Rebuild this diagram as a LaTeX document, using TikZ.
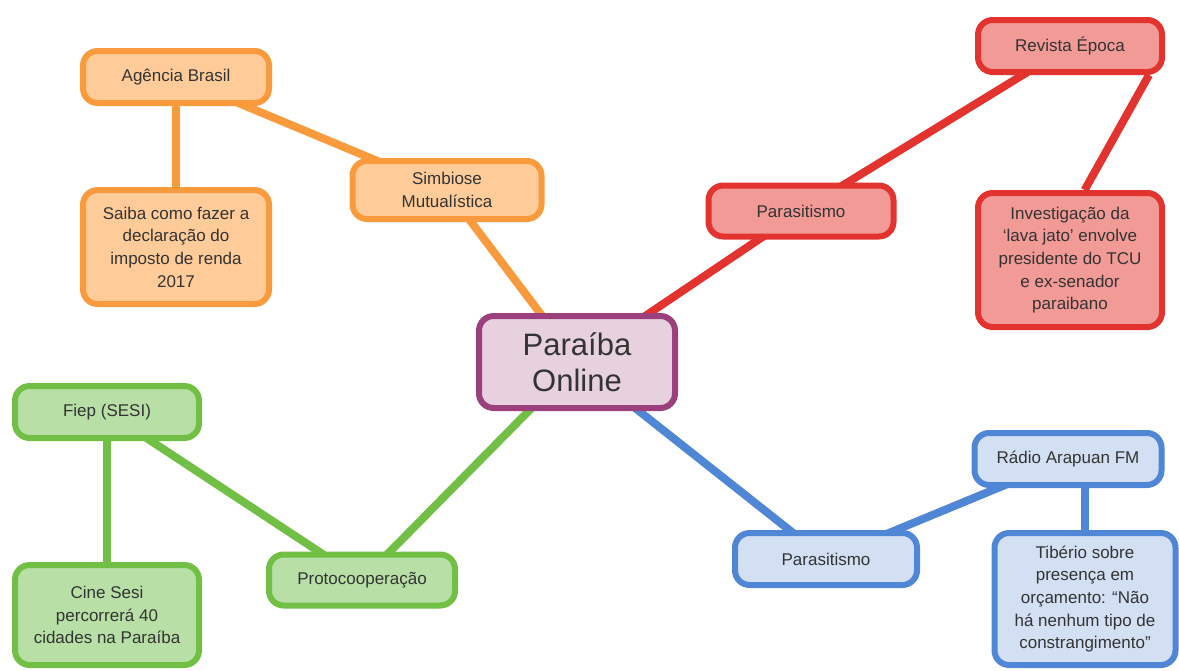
\documentclass[tikz,border=0pt]{standalone}
\usepackage{fontspec}
\setmainfont{Liberation Sans}
\usetikzlibrary{backgrounds}

\definecolor{orangeline}{HTML}{F99B3C}
\definecolor{orangefill}{HTML}{FFCC99}
\definecolor{redline}{HTML}{E2332F}
\definecolor{redfill}{HTML}{F19A96}
\definecolor{purpleline}{HTML}{9B3F7D}
\definecolor{purplefill}{HTML}{E7D1DF}
\definecolor{greenline}{HTML}{72BF45}
\definecolor{greenfill}{HTML}{B8E0A6}
\definecolor{blueline}{HTML}{4F86D5}
\definecolor{bluefill}{HTML}{D3E0F4}
\definecolor{textgray}{HTML}{333333}

\begin{document}
\begin{tikzpicture}[x=0.75pt,y=-0.75pt,
  box/.style={draw, line width=4.5pt, rounded corners=11pt, align=center,
    text=textgray, inner sep=0pt, font=\fontsize{12.75}{17}\selectfont},
  orangebox/.style={box, draw=orangeline, fill=orangefill},
  redbox/.style={box, draw=redline, fill=redfill},
  greenbox/.style={box, draw=greenline, fill=greenfill},
  bluebox/.style={box, draw=blueline, fill=bluefill},
  link/.style={line width=6pt}]
\useasboundingbox (0,0) rectangle (1179,671);

% centre
\node[box, draw=purpleline, fill=purplefill, minimum width=147pt, minimum height=69pt,
  font=\fontsize{23.25}{27}\selectfont] (paraiba) at (577,362) {Paraíba\\Online};

% orange branch
\node[orangebox, minimum width=139.5pt, minimum height=39pt] (agencia) at (176,77) {Agência Brasil};
\node[orangebox, minimum width=139.5pt, minimum height=85.5pt] (saiba) at (176,247)
  {Saiba como fazer a\\declaração do\\imposto de renda\\2017};
\node[orangebox, minimum width=141.75pt, minimum height=43.5pt] (simbiose) at (447,190)
  {Simbiose\\Mutualística};

% red branch
\node[redbox, minimum width=138.75pt, minimum height=38.25pt] (parasred) at (801,211) {Parasitismo};
\node[redbox, minimum width=138pt, minimum height=39pt] (revista) at (1070,46) {Revista Época};
\node[redbox, minimum width=138pt, minimum height=100.5pt] (invest) at (1070,260)
  {Investigação da\\‘lava jato’ envolve\\presidente do TCU\\e ex-senador\\paraibano};

% green branch
\node[greenbox, minimum width=138pt, minimum height=39pt] (fiep) at (107,412) {Fiep (SESI)};
\node[greenbox, minimum width=138pt, minimum height=75pt] (cine) at (107,615)
  {Cine Sesi\\percorrerá 40\\cidades na Paraíba};
\node[greenbox, minimum width=139.5pt, minimum height=38.25pt] (proto) at (362,580) {Protocooperação};

% blue branch
\node[bluebox, minimum width=136.5pt, minimum height=39pt] (parasblue) at (826,559) {Parasitismo};
\node[bluebox, minimum width=140.25pt, minimum height=39pt] (radio) at (1068,459) {Rádio Arapuan FM};
\node[bluebox, minimum width=135.75pt, minimum height=99pt] (tiberio) at (1085,599)
  {Tibério sobre\\presença em\\orçamento: “Não\\há nenhum tipo de\\constrangimento”};

\begin{scope}[on background layer]
\draw[link, orangeline] (agencia.center) -- (saiba.center);
\draw[link, orangeline] (agencia.center) -- (simbiose.center);
\draw[link, orangeline] (simbiose.center) -- (paraiba.center);

\draw[link, redline] (paraiba.center) -- (parasred.center);
\draw[link, redline] (parasred.center) -- (revista.center);
\draw[link, redline] ([xshift=-12pt]revista.south east) -- ([xshift=11pt]invest.north);

\draw[link, greenline] (fiep.center) -- (cine.center);
\draw[link, greenline] (fiep.center) -- (proto.center);
\draw[link, greenline] (proto.center) -- (paraiba.center);

\draw[link, blueline] (paraiba.center) -- (parasblue.center);
\draw[link, blueline] (parasblue.center) -- (radio.center);
\draw[link, blueline] (tiberio.center) -- (tiberio.center |- radio.center);
\end{scope}
\end{tikzpicture}
\end{document}
